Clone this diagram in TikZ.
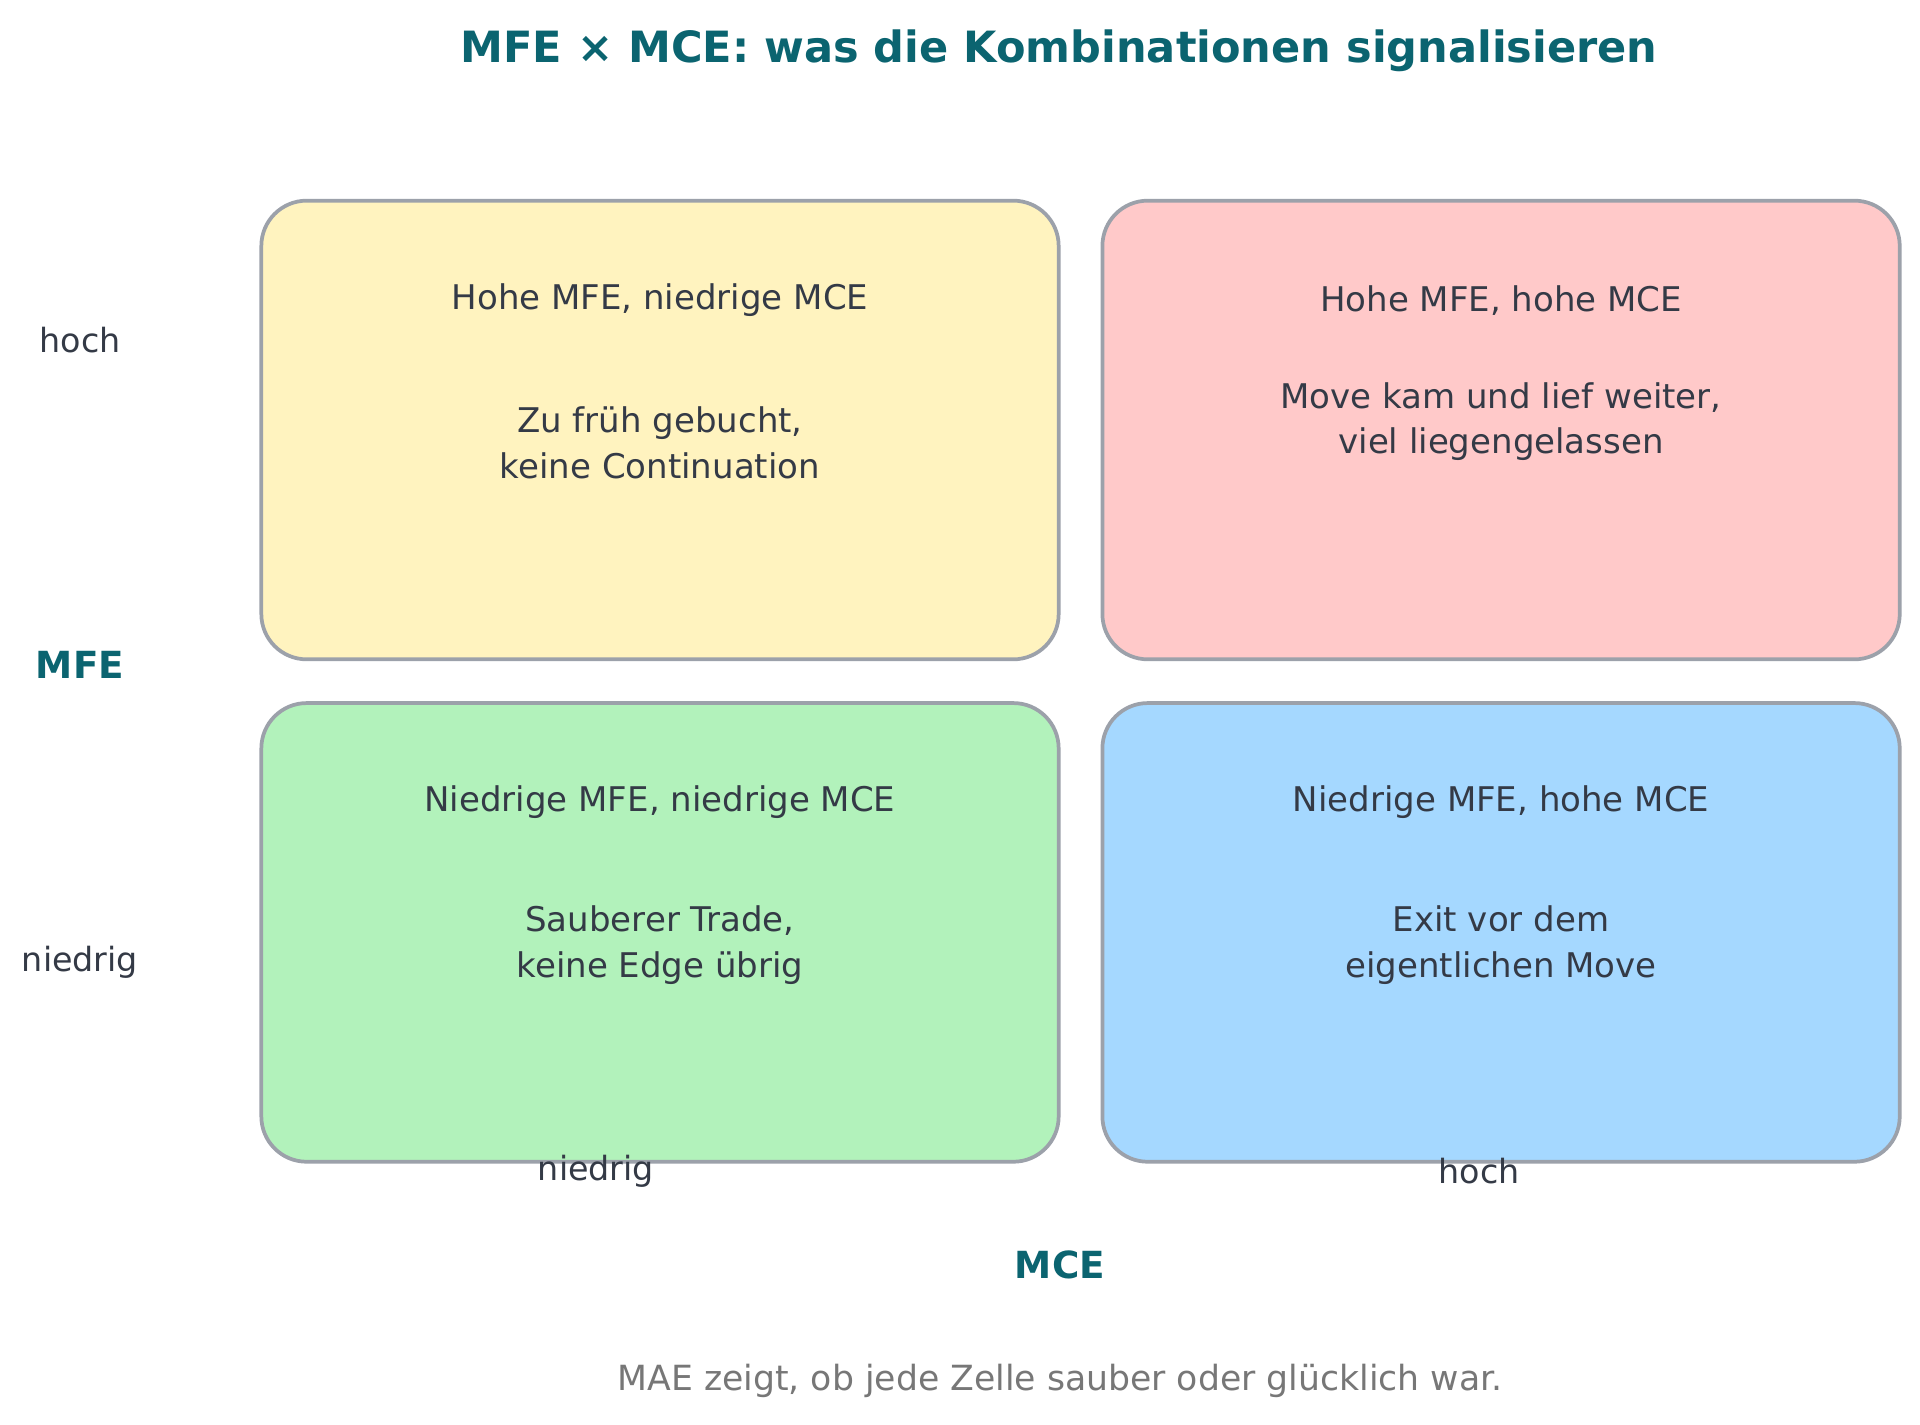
\documentclass[tikz,border=0pt]{standalone}
\usepackage{fontspec}
\setmainfont{DejaVu Sans}
\usetikzlibrary{positioning}
\definecolor{inktext}{HTML}{343A46}
\definecolor{tealhead}{HTML}{0B6470}
\definecolor{notegrey}{HTML}{777777}
\definecolor{framegrey}{HTML}{9CA1AA}
\definecolor{cellyellow}{HTML}{FFF3BF}
\definecolor{cellred}{HTML}{FFC9C9}
\definecolor{cellgreen}{HTML}{B2F2BB}
\definecolor{cellblue}{HTML}{A5D8FF}

\begin{document}
\begin{tikzpicture}[
    x=0.75pt, y=-0.75pt,
    node distance=30pt and 30pt,
    cell/.style={
        draw=framegrey,
        line width=2.8pt,
        rounded corners=34pt,
        minimum width=598pt,
        minimum height=344pt,
        inner sep=0pt
    },
    headline/.style={
        text=inktext,
        font=\fontsize{25.5}{30}\selectfont,
        align=center
    },
    bodytext/.style={
        text=inktext,
        font=\fontsize{25.5}{34}\selectfont,
        align=center
    },
    ticklabel/.style={
        text=inktext,
        font=\fontsize{25}{30}\selectfont
    },
    axislabel/.style={
        text=tealhead,
        font=\fontsize{28}{34}\selectfont\bfseries
    }
]
    \useasboundingbox[fill=white] (0,0) rectangle (1920,1424);

    % Title
    \node[text=tealhead, font=\fontsize{32.3}{38}\selectfont\bfseries] (title) at (1059,51)
        {MFE × MCE: was die Kombinationen signalisieren};

    % 1. The four cells
    \node[cell, fill=cellyellow] (tl) at (660,430) {};
    \node[cell, fill=cellred, right=of tl] (tr) {};
    \node[cell, fill=cellgreen, below=of tl] (bl) {};
    \node[cell, fill=cellblue, right=of bl] (br) {};

    % Cell texts
    \node[headline] (tlhead) at ([yshift=-76pt]tl.north) {Hohe MFE, niedrige MCE};
    \node[bodytext] (tlbody) at ([yshift=-183pt]tl.north) {Zu früh gebucht,\\keine Continuation};

    \node[headline] (trhead) at ([yshift=-76pt]tr.north) {Hohe MFE, hohe MCE};
    \node[bodytext] (trbody) at ([yshift=-167pt]tr.north) {Move kam und lief weiter,\\viel liegengelassen};

    \node[headline] (blhead) at ([yshift=-76pt]bl.north) {Niedrige MFE, niedrige MCE};
    \node[bodytext] (blbody) at ([yshift=-183pt]bl.north) {Sauberer Trade,\\keine Edge übrig};

    \node[headline] (brhead) at ([yshift=-76pt]br.north) {Niedrige MFE, hohe MCE};
    \node[bodytext] (brbody) at ([yshift=-183pt]br.north) {Exit vor dem\\eigentlichen Move};

    % 2. Axis labels
    \node[ticklabel] (mfehigh) at (80,340) {hoch};
    \node[axislabel] (mfe) at (80,665) {MFE};
    \node[ticklabel] (mfelow) at (80,962) {niedrig};

    \node[ticklabel] (mcelow) at (596,1171) {niedrig};
    \node[ticklabel] (mcehigh) at (1479,1171) {hoch};
    \node[axislabel] (mce) at (1060,1265) {MCE};

    % Footnote
    \node[text=notegrey, font=\fontsize{26}{30}\selectfont] (note) at (1060,1381)
        {MAE zeigt, ob jede Zelle sauber oder glücklich war.};

\end{tikzpicture}
\end{document}
